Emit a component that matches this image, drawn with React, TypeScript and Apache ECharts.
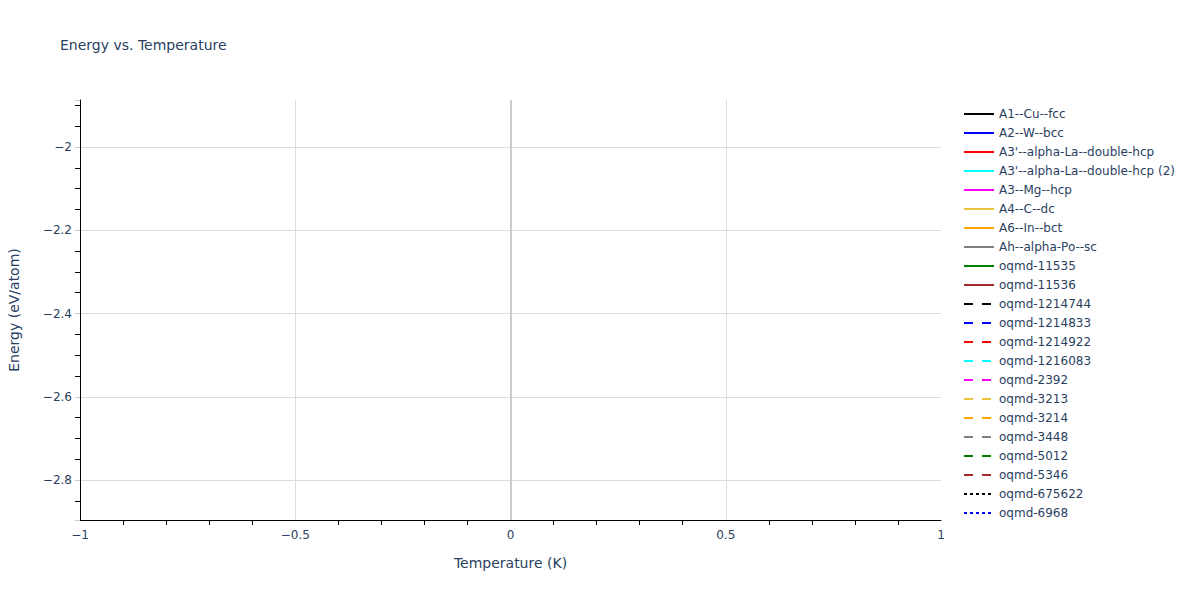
import React, { useEffect, useRef } from 'react'
import * as echarts from 'echarts'

// structures / entries shown in the legend
const seriesNames = [
  'A1--Cu--fcc',
  'A2--W--bcc',
  "A3'--alpha-La--double-hcp",
  "A3'--alpha-La--double-hcp (2)",
  'A3--Mg--hcp',
  'A4--C--dc',
  'A6--In--bct',
  'Ah--alpha-Po--sc',
  'oqmd-11535',
  'oqmd-11536',
  'oqmd-1214744',
  'oqmd-1214833',
  'oqmd-1214922',
  'oqmd-1216083',
  'oqmd-2392',
  'oqmd-3213',
  'oqmd-3214',
  'oqmd-3448',
  'oqmd-5012',
  'oqmd-5346',
  'oqmd-675622',
  'oqmd-6968'
]

// every entry only has a value at T = 0 K
const temperatures = [0]
const energies = [
  -2.78, -2.74, -2.79, -2.79, -2.77, -2.85, -2.81, -2.6, -2.7, -2.65, -2.3,
  -2.15, -1.933, -2.05, -2.76, -2.72, -2.8, -2.68, -2.83, -2.55, -2.4, -2.5
]

const xTicks = [-1, -0.5, 0, 0.5, 1]

const colors = [
  '#000000', '#0000ff', '#ff0000', '#00ffff', '#ff00ff', '#ebc53a', '#ffa500',
  '#808080', '#008000', '#a52a2a'
]

const FONT = '"DejaVu Sans", Verdana, sans-serif'
const TEXT = '#2a3f5f'

const fmt = (v: number) => {
  const r = Number(v.toFixed(2))
  return r < 0 ? '\u2212' + Math.abs(r) : String(r)
}

const App: React.FC = () => {
  const chartRef = useRef<HTMLDivElement>(null)

  useEffect(() => {
    document.body.style.margin = '0'
    if (!chartRef.current) return
    const chart = echarts.init(chartRef.current, undefined, { renderer: 'svg' })

    const series = seriesNames.map((name, idx) => {
      const dashType = idx < 10 ? 'solid' : idx < 20 ? [9, 9] : [3, 3]
      return {
        name,
        type: 'line',
        symbol: 'none',
        showSymbol: false,
        color: colors[idx % 10],
        lineStyle: { color: colors[idx % 10], width: 2, type: dashType },
        data: temperatures.map(t => [t, energies[idx]]),
        z: 3,
        markLine:
          idx === 0
            ? {
                silent: true,
                symbol: ['none', 'none'],
                label: { show: false },
                lineStyle: { color: '#cccccc', width: 2, type: 'solid' },
                data: [{ xAxis: 0 }],
                z: 1
              }
            : undefined
      }
    })

    chart.setOption({
      animation: false,
      backgroundColor: '#ffffff',
      title: {
        text: 'Energy vs. Temperature',
        left: 55,
        top: 33,
        textStyle: { fontFamily: FONT, fontSize: 14, fontWeight: 'normal', color: TEXT }
      },
      legend: {
        orient: 'vertical',
        left: 958,
        top: 102,
        itemWidth: 30,
        itemHeight: 14,
        itemGap: 5,
        itemStyle: { opacity: 0, borderWidth: 0 },
        textStyle: { fontFamily: FONT, fontSize: 12, color: TEXT, lineHeight: 14 },
        data: seriesNames
      },
      grid: {
        left: 80,
        right: 259,
        top: 100,
        bottom: 80,
        containLabel: false,
        outerBoundsMode: 'none'
      },
      xAxis: {
        type: 'value',
        min: -1,
        max: 1,
        interval: 0.5,
        name: 'Temperature (K)',
        nameLocation: 'middle',
        nameGap: 36,
        nameTextStyle: { fontFamily: FONT, fontSize: 14, color: TEXT },
        axisLine: { show: true, onZero: false, lineStyle: { color: '#000000', width: 1 } },
        axisTick: { show: false },
        minorTick: { show: true, splitNumber: 5, length: 5, lineStyle: { color: '#000000', width: 1 } },
        axisLabel: {
          fontFamily: FONT,
          fontSize: 12,
          color: TEXT,
          margin: 9,
          formatter: (v: number) => (xTicks.includes(Number(v.toFixed(2))) ? fmt(v) : '')
        },
        splitLine: { show: true, showMinLine: false, showMaxLine: false, lineStyle: { color: '#dddddd', width: 1 } }
      },
      yAxis: {
        type: 'value',
        min: -2.896,
        max: -1.887,
        splitNumber: 5,
        minInterval: 0.2,
        maxInterval: 0.2,
        name: 'Energy (eV/atom)',
        nameLocation: 'middle',
        nameGap: 59,
        nameTextStyle: { fontFamily: FONT, fontSize: 14, color: TEXT },
        axisLine: { show: true, onZero: false, lineStyle: { color: '#000000', width: 1 } },
        axisTick: { show: true, length: 5, lineStyle: { color: '#cccccc' } },
        minorTick: { show: true, splitNumber: 4, length: 5, lineStyle: { color: '#000000', width: 1 } },
        axisLabel: {
          fontFamily: FONT,
          fontSize: 12,
          color: TEXT,
          margin: 8,
          showMinLabel: false,
          showMaxLabel: false,
          formatter: (v: number) => fmt(v)
        },
        splitLine: { show: true, showMinLine: false, showMaxLine: false, lineStyle: { color: '#dddddd', width: 1 } }
      },
      series: series as any
    })

    return () => {
      chart.dispose()
    }
  }, [])

  return <div ref={chartRef} style={{ width: 1200, height: 600 }} />
}

export default App
